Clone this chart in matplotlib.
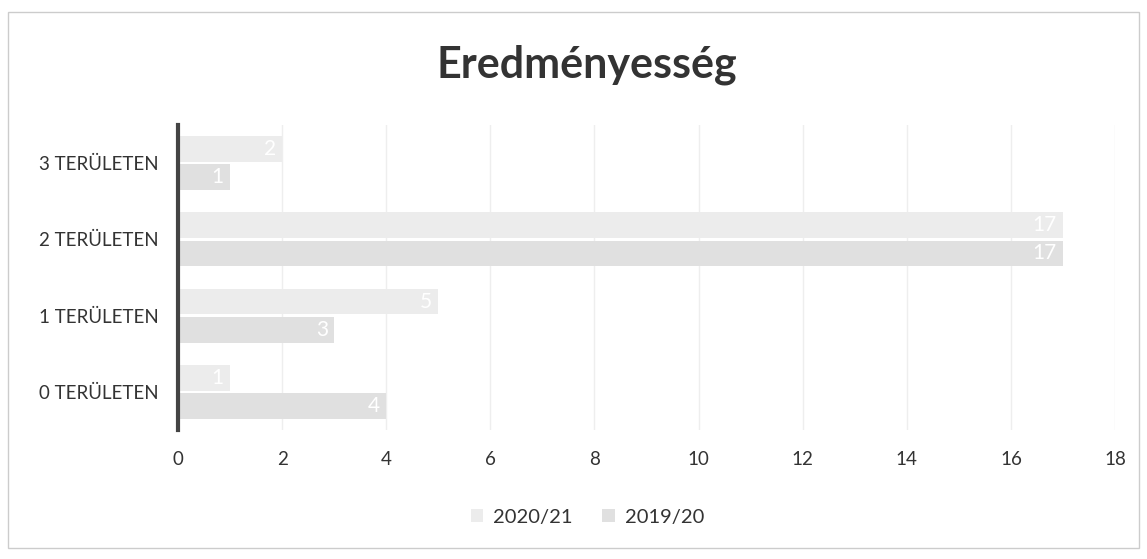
import matplotlib
matplotlib.use('Agg')
import matplotlib.pyplot as plt
import numpy as np

plt.rcParams['font.family'] = ['Lato', 'DejaVu Sans']

kategoriak = ['0 TERÜLETEN', '1 TERÜLETEN', '2 TERÜLETEN', '3 TERÜLETEN']
ev_2020_21 = [1, 5, 17, 2]
ev_2019_20 = [4, 3, 17, 1]
x_ticks = [0, 2, 4, 6, 8, 10, 12, 14, 16, 18]

fig = plt.figure(figsize=(11.47, 5.59), dpi=100)
ax = fig.add_axes([0.1552, 0.2308, 0.8169, 0.5456])

y = np.arange(len(kategoriak))
h = 0.34
off = 0.185
b1 = ax.barh(y + off, ev_2020_21, height=h, color='#ececec', label='2020/21', zorder=2)
b2 = ax.barh(y - off, ev_2019_20, height=h, color='#e0e0e0', label='2019/20', zorder=2)

for bars, vals in [(b1, ev_2020_21), (b2, ev_2019_20)]:
    for b, v in zip(bars, vals):
        ax.text(b.get_width() - 0.12, b.get_y() + b.get_height() / 2, str(v),
                ha='right', va='center', fontsize=15, color='white', zorder=3)

ax.set_xlim(0, 18)
ax.set_ylim(-0.5, 3.5)
ax.set_xticks(x_ticks)
ax.set_yticks(y)
ax.set_yticklabels(kategoriak)
ax.tick_params(axis='both', length=0, labelsize=13.5, colors='#333333')
ax.tick_params(axis='x', pad=15)
ax.tick_params(axis='y', pad=14)
ax.grid(axis='x', color='#eeeeee', linewidth=1, zorder=0)
for s in ['top', 'right', 'bottom']:
    ax.spines[s].set_visible(False)
ax.spines['left'].set_color('#444444')
ax.spines['left'].set_linewidth(3)

fig.text(0.512, 0.884, 'Eredményesség', ha='center', va='center',
         fontsize=31, fontweight='bold', color='#333333')

fig.legend(handles=[b1, b2], loc='center', bbox_to_anchor=(0.512, 0.075), ncol=2,
           frameon=False, fontsize=14.5, handlelength=0.6, handleheight=0.6,
           columnspacing=1.5, handletextpad=0.5, labelcolor='#333333')

# keret a szkennelt kép szélén
fig.add_artist(plt.Rectangle((0.007, 0.02), 0.986, 0.958, transform=fig.transFigure,
                             fill=False, edgecolor='#cccccc', linewidth=1))

fig.savefig('out.png', dpi=100, facecolor='white')
